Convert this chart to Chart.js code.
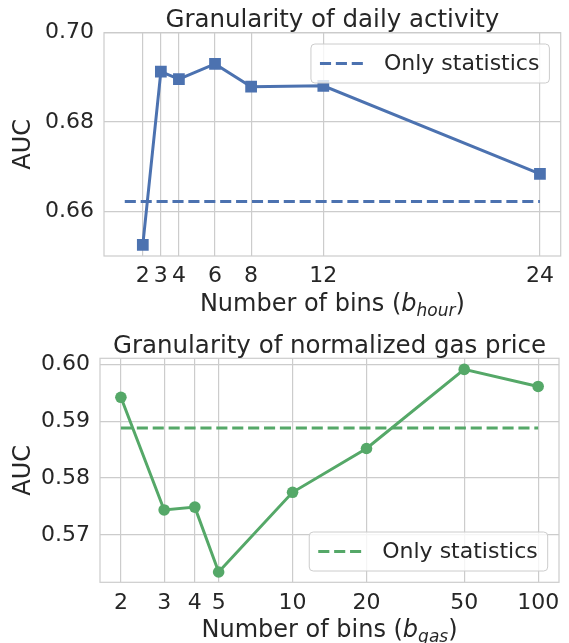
<!DOCTYPE html>
<html>
<head>
<meta charset="utf-8">
<script src="https://cdn.jsdelivr.net/npm/chart.js@4.4.1/dist/chart.umd.min.js"></script>
<style>
  html, body { margin: 0; padding: 0; background: #fff; }
  canvas { display: block; }
</style>
</head>
<body>
<canvas id="hour-chart" width="569" height="320"></canvas>
<canvas id="gas-chart" width="569" height="323"></canvas>
<script>
'use strict';

// Top panel: granularity of daily activity (b_hour)
const hourBins = [2, 3, 4, 6, 8, 12, 24];
const hourAuc = [0.6525, 0.6913, 0.6896, 0.6930, 0.6879, 0.6881, 0.6684];
const hourBaselineX = [1, 24];
const hourBaseline = 0.6622;
const hourYTicks = [0.66, 0.68, 0.70];

// Bottom panel: granularity of normalized gas price (b_gas), log x axis
const gasBins = [2, 3, 4, 5, 10, 20, 50, 100];
const gasAuc = [0.5942, 0.5744, 0.5749, 0.5635, 0.5775, 0.5852, 0.5991, 0.5961];
const gasBaselineX = [2, 100];
const gasBaseline = 0.5888;
const gasYTicks = [0.57, 0.58, 0.59, 0.60];

const BLUE = '#4C72B0';
const GREEN = '#55A868';
const GRID = '#cccccc';
const TEXT = '#262626';
const FONT = '"DejaVu Sans", sans-serif';

Chart.defaults.font.family = FONT;
Chart.defaults.color = TEXT;
Chart.defaults.animation = false;

// full box around the plot area (seaborn whitegrid spines)
const framePlugin = {
  id: 'frame',
  beforeDatasetsDraw(chart) {
    const { ctx, chartArea: a } = chart;
    ctx.save();
    ctx.strokeStyle = GRID;
    ctx.lineWidth = 1.2;
    ctx.strokeRect(a.left, a.top, a.right - a.left, a.bottom - a.top);
    ctx.restore();
  },
};

// title over the plot area + x label with italic subscript
const panelTextPlugin = {
  id: 'panelText',
  afterDraw(chart, args, opts) {
    const { ctx, chartArea: a } = chart;
    const cx = (a.left + a.right) / 2;
    ctx.save();
    ctx.fillStyle = TEXT;
    ctx.textBaseline = 'alphabetic';

    ctx.font = '24.5px ' + FONT;
    ctx.textAlign = 'center';
    ctx.fillText(opts.title, cx, a.top - 5.5);

    const parts = [
      { t: opts.xLabel + ' (', f: '24px ' + FONT, dy: 0 },
      { t: 'b', f: 'italic 24px ' + FONT, dy: 0 },
      { t: opts.sub, f: 'italic 17px ' + FONT, dy: 5 },
      { t: ')', f: '24px ' + FONT, dy: 0 },
    ];
    let w = 0;
    parts.forEach(p => { ctx.font = p.f; p.w = ctx.measureText(p.t).width; w += p.w; });
    let x = cx - w / 2;
    const y = a.bottom + 55;
    ctx.textAlign = 'left';
    parts.forEach(p => { ctx.font = p.f; ctx.fillText(p.t, x, y + p.dy); x += p.w; });
    ctx.restore();
  },
};

// matplotlib-like legend box inside the axes
const insetLegendPlugin = {
  id: 'insetLegend',
  afterDatasetsDraw(chart, args, opts) {
    const { ctx, chartArea: a } = chart;
    const ds = chart.data.datasets[1];
    ctx.save();
    ctx.font = '22px ' + FONT;
    const tw = ctx.measureText(ds.label).width;
    const w = 73 + tw + 10, h = 39, pad = 11.3;
    const x = a.right - pad - w;
    const y = opts.corner === 'top' ? a.top + pad : a.bottom - pad - h;

    ctx.beginPath();
    if (ctx.roundRect) ctx.roundRect(x, y, w, h, 4); else ctx.rect(x, y, w, h);
    ctx.fillStyle = 'rgba(255,255,255,0.8)';
    ctx.fill();
    ctx.strokeStyle = GRID;
    ctx.lineWidth = 1;
    ctx.stroke();

    const cy = y + h / 2;
    ctx.setLineDash(ds.borderDash);
    ctx.lineWidth = ds.borderWidth;
    ctx.strokeStyle = ds.borderColor;
    ctx.beginPath();
    ctx.moveTo(x + 9, cy);
    ctx.lineTo(x + 53, cy);
    ctx.stroke();
    ctx.setLineDash([]);

    ctx.fillStyle = TEXT;
    ctx.textBaseline = 'middle';
    ctx.textAlign = 'left';
    ctx.fillText(ds.label, x + 73, cy + 1);
    ctx.restore();
  },
};

function yScale(min, max, ticks, width) {
  return {
    min, max,
    afterBuildTicks: s => { s.ticks = ticks.map(v => ({ value: v })); },
    afterFit: s => { s.width = width; },
    ticks: { font: { size: 22 }, padding: 10, callback: v => v.toFixed(2) },
    grid: { color: GRID, lineWidth: 1.2, drawTicks: false },
    border: { display: false },
    title: { display: true, text: 'AUC', font: { size: 24 }, padding: { top: 9, bottom: 0 } },
  };
}

function xScale(type, min, max, ticks, height) {
  return {
    type, min, max,
    afterBuildTicks: s => { s.ticks = ticks.map(v => ({ value: v })); },
    afterFit: s => { s.height = height; },
    ticks: { font: { size: 22 }, padding: 7.5, maxRotation: 0, autoSkip: false, callback: v => String(v) },
    grid: { color: GRID, lineWidth: 1.2, drawTicks: false },
    border: { display: false },
  };
}

function makePanel(id, o) {
  return new Chart(document.getElementById(id), {
    type: 'line',
    data: {
      datasets: [
        {
          label: 'AUC',
          data: o.bins.map((x, i) => ({ x, y: o.auc[i] })),
          borderColor: o.color,
          backgroundColor: o.color,
          borderWidth: 3,
          pointStyle: o.marker,
          pointRadius: o.markerRadius,
          pointBorderWidth: 0,
          tension: 0,
        },
        {
          label: 'Only statistics',
          data: o.baseX.map(x => ({ x, y: o.base })),
          borderColor: o.color,
          borderWidth: 3,
          borderDash: [11.1, 4.8],
          pointRadius: 0,
        },
      ],
    },
    options: {
      responsive: false,
      layout: { padding: o.padding },
      scales: {
        x: xScale(o.xType, o.xMin, o.xMax, o.bins, o.xHeight),
        y: yScale(o.yMin, o.yMax, o.yTicks, o.yWidth),
      },
      plugins: {
        legend: { display: false },
        tooltip: { enabled: false },
        panelText: { title: o.title, xLabel: 'Number of bins', sub: o.sub },
        insetLegend: { corner: o.legendCorner },
      },
    },
    plugins: [framePlugin, insetLegendPlugin, panelTextPlugin],
  });
}

makePanel('hour-chart', {
  title: 'Granularity of daily activity', sub: 'hour',
  bins: hourBins, auc: hourAuc, baseX: hourBaselineX, base: hourBaseline,
  color: BLUE, marker: 'rect', markerRadius: 8.3,
  xType: 'linear', xMin: -0.15, xMax: 25.15, xHeight: 64,
  yMin: 0.65, yMax: 0.70, yTicks: hourYTicks, yWidth: 104,
  padding: { top: 32.7, right: 5.7, left: 0, bottom: 0 },
  legendCorner: 'top',
});

makePanel('gas-chart', {
  title: 'Granularity of normalized gas price', sub: 'gas',
  bins: gasBins, auc: gasAuc, baseX: gasBaselineX, base: gasBaseline,
  color: GREEN, marker: 'circle', markerRadius: 5.8,
  xType: 'logarithmic', xMin: 1.644, xMax: 121.6, xHeight: 60.7,
  yMin: 0.56169, yMax: 0.60105, yTicks: gasYTicks, yWidth: 100,
  padding: { top: 38.3, right: 10, left: 0, bottom: 0 },
  legendCorner: 'bottom',
});
</script>
</body>
</html>
